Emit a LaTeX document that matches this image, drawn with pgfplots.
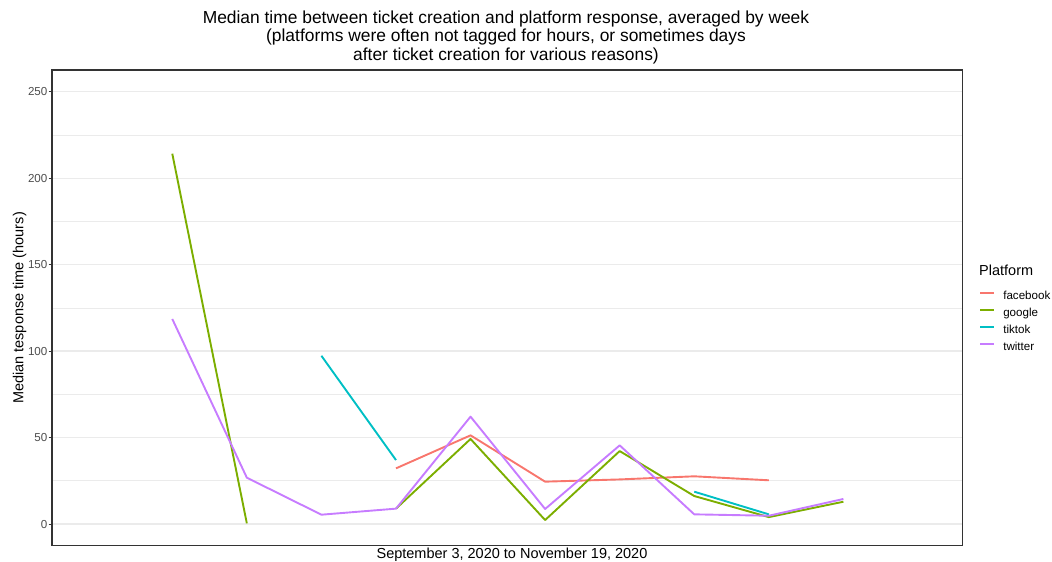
\documentclass[border=0pt]{standalone}
\usepackage{fontspec}
\setmainfont{Liberation Sans}
\usepackage{pgfplots}
\pgfplotsset{compat=1.18}
\definecolor{fbcol}{HTML}{F8766D}
\definecolor{gocol}{HTML}{7CAE00}
\definecolor{ttcol}{HTML}{00BFC4}
\definecolor{twcol}{HTML}{C77CFF}
\definecolor{grid92}{HTML}{EBEBEB}
\definecolor{grey20}{HTML}{333333}
\definecolor{grey30}{HTML}{4D4D4D}

\begin{document}
\begin{tikzpicture}[x=1pt,y=1pt]
\useasboundingbox (0,0) rectangle (1052,562);
\begin{axis}[
    at={(52pt,16.7pt)}, anchor=south west,
    scale only axis, width=910.7pt, height=475.3pt,
    xmin=-0.613, xmax=11.60, ymin=-12.3, ymax=262.6,
    xtick=\empty,
    ytick={0,50,...,250}, minor ytick={25,75,...,225},
    ytick pos=left, tick align=outside,
    major tick length=3.4pt, minor tick length=0pt,
    tick style={grey20, line width=1pt},
    ymajorgrids, yminorgrids,
    major grid style={grid92, line width=1.3pt},
    minor grid style={grid92, line width=0.7pt},
    axis line style={grey20, line width=1.1pt},
    /pgf/number format/assume math mode=true,
    yticklabel style={font=\fontsize{11.6pt}{13pt}\selectfont, color=grey30, inner sep=1pt},
    unbounded coords=jump,
    every axis plot/.append style={line width=1.9pt, line join=round, no markers},
    legend style={at={(1.0182,0.5340)}, anchor=north west, draw=none, fill=none,
        inner sep=0pt, outer sep=0pt, row sep=5.5pt, column sep=8.5pt,
        font=\fontsize{11.6pt}{13pt}\selectfont,
        nodes={text height=8.5pt, text depth=3pt, inner sep=0pt}},
    legend cell align=left,
    legend image code/.code={\draw[#1] (0pt,4.3pt) -- (13.6pt,4.3pt);},
]
\addplot[fbcol] coordinates {(4,32.2) (5,51.3) (6,24.5) (7,25.8) (8,27.6) (9,25.3)};
\addlegendentry{facebook}
\addplot[gocol] coordinates {(1,214.2) (2,0.4) (3,nan) (4,8.9) (5,49.2) (6,2.3) (7,42.2) (8,16.2) (9,4.0) (10,12.9)};
\addlegendentry{google}
\addplot[ttcol] coordinates {(3,97.3) (4,37.0) (5,nan) (8,18.7) (9,5.6)};
\addlegendentry{tiktok}
\addplot[twcol] coordinates {(1,118.6) (2,26.8) (3,5.4) (4,8.9) (5,62.1) (6,8.7) (7,45.5) (8,5.6) (9,4.8) (10,14.5)};
\addlegendentry{twitter}
\end{axis}
\begin{scope}[font=\fontsize{17.4pt}{19pt}\selectfont]
\node[anchor=base, inner sep=0pt] at (506,538.7) {Median time between ticket creation and platform response, averaged by week};
\node[anchor=base, inner sep=0pt] at (506,520) {(platforms were often not tagged for hours, or sometimes days};
\node[anchor=base, inner sep=0pt] at (506,501) {after ticket creation for various reasons)};
\end{scope}
\node[anchor=base, inner sep=0pt, font=\fontsize{14.5pt}{16pt}\selectfont] at (512,3.8) {September 3, 2020 to November 19, 2020};
\node[anchor=base, inner sep=0pt, rotate=90, font=\fontsize{14.5pt}{16pt}\selectfont] at (23.3,254) {Median tesponse time (hours)};
\node[anchor=base west, inner sep=0pt, font=\fontsize{14.5pt}{16pt}\selectfont] at (979,286) {Platform};
\end{tikzpicture}
\end{document}
